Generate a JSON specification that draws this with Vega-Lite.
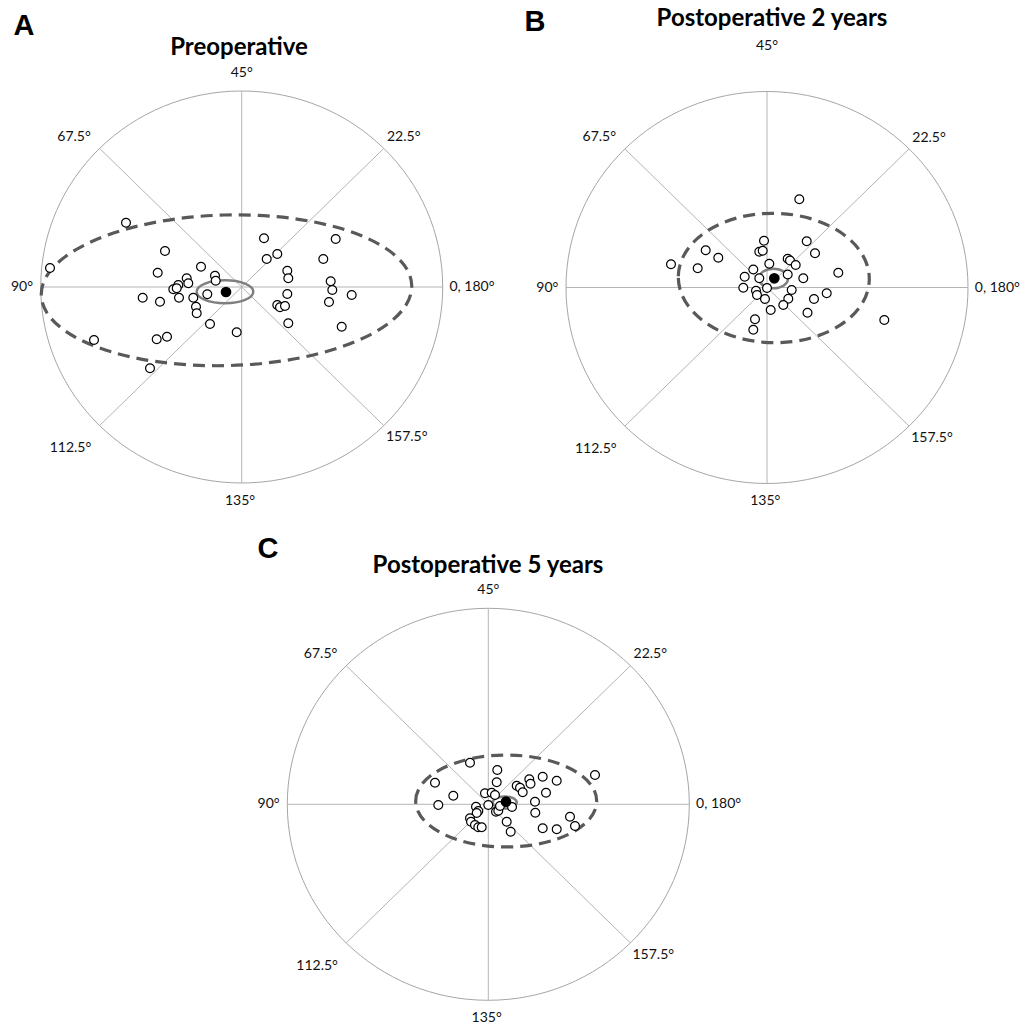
{
  "$schema": "https://vega.github.io/schema/vega-lite/v6.json",
  "padding": 0,
  "background": "white",
  "config": {"view": {"stroke": null}},
  "datasets": {
    "spokes": [
      {"x": -2.01, "y": 0, "x2": 2.01, "y2": 0},
      {"x": 0, "y": -1.96, "x2": 0, "y2": 1.96},
      {"x": -1.421, "y": -1.386, "x2": 1.421, "y2": 1.386},
      {"x": -1.421, "y": 1.386, "x2": 1.421, "y2": -1.386}
    ],
    "eyes": [
      {"panel": "A", "x": -1.157, "y": 0.643}, {"panel": "A", "x": -1.917, "y": 0.19}, {"panel": "A", "x": -0.767, "y": 0.36},
      {"panel": "A", "x": -0.84, "y": 0.143}, {"panel": "A", "x": -0.407, "y": 0.203}, {"panel": "A", "x": -0.267, "y": 0.113},
      {"panel": "A", "x": -0.26, "y": 0.063}, {"panel": "A", "x": -0.55, "y": 0.087}, {"panel": "A", "x": -0.534, "y": 0.037},
      {"panel": "A", "x": -0.634, "y": 0.02}, {"panel": "A", "x": -0.684, "y": -0.023}, {"panel": "A", "x": -0.65, "y": -0.013},
      {"panel": "A", "x": -0.627, "y": -0.107}, {"panel": "A", "x": -0.99, "y": -0.107}, {"panel": "A", "x": -0.817, "y": -0.147},
      {"panel": "A", "x": -0.484, "y": -0.107}, {"panel": "A", "x": -0.344, "y": -0.073}, {"panel": "A", "x": -0.457, "y": -0.197},
      {"panel": "A", "x": -0.45, "y": -0.263}, {"panel": "A", "x": -0.317, "y": -0.37}, {"panel": "A", "x": -0.05, "y": -0.453},
      {"panel": "A", "x": -1.477, "y": -0.53}, {"panel": "A", "x": -0.85, "y": -0.523}, {"panel": "A", "x": -0.747, "y": -0.497},
      {"panel": "A", "x": -0.917, "y": -0.813}, {"panel": "A", "x": 0.223, "y": 0.487}, {"panel": "A", "x": 0.356, "y": 0.33},
      {"panel": "A", "x": 0.25, "y": 0.28}, {"panel": "A", "x": 0.456, "y": 0.163}, {"panel": "A", "x": 0.466, "y": 0.087},
      {"panel": "A", "x": 0.456, "y": -0.07}, {"panel": "A", "x": 0.356, "y": -0.18}, {"panel": "A", "x": 0.383, "y": -0.203},
      {"panel": "A", "x": 0.433, "y": -0.19}, {"panel": "A", "x": 0.466, "y": -0.363}, {"panel": "A", "x": 0.94, "y": 0.48},
      {"panel": "A", "x": 0.816, "y": 0.28}, {"panel": "A", "x": 0.89, "y": 0.057}, {"panel": "A", "x": 0.906, "y": -0.03},
      {"panel": "A", "x": 0.873, "y": -0.15}, {"panel": "A", "x": 1.1, "y": -0.08}, {"panel": "A", "x": 1.0, "y": -0.397},

      {"panel": "B", "x": 0.323, "y": 0.882}, {"panel": "B", "x": 0.397, "y": 0.462}, {"panel": "B", "x": -0.03, "y": 0.468},
      {"panel": "B", "x": -0.077, "y": 0.358}, {"panel": "B", "x": -0.043, "y": 0.368}, {"panel": "B", "x": -0.613, "y": 0.372},
      {"panel": "B", "x": -0.487, "y": 0.298}, {"panel": "B", "x": -0.96, "y": 0.232}, {"panel": "B", "x": -0.693, "y": 0.192},
      {"panel": "B", "x": 0.48, "y": 0.342}, {"panel": "B", "x": 0.023, "y": 0.238}, {"panel": "B", "x": -0.137, "y": 0.18},
      {"panel": "B", "x": 0.207, "y": 0.288}, {"panel": "B", "x": 0.23, "y": 0.27}, {"panel": "B", "x": 0.287, "y": 0.225},
      {"panel": "B", "x": -0.223, "y": 0.108}, {"panel": "B", "x": -0.077, "y": 0.092}, {"panel": "B", "x": 0.207, "y": 0.13},
      {"panel": "B", "x": 0.363, "y": 0.092}, {"panel": "B", "x": 0.713, "y": 0.148}, {"panel": "B", "x": -0.237, "y": -0.002},
      {"panel": "B", "x": -0.11, "y": -0.032}, {"panel": "B", "x": 0.0, "y": -0.005}, {"panel": "B", "x": 0.247, "y": -0.025},
      {"panel": "B", "x": -0.1, "y": -0.075}, {"panel": "B", "x": -0.02, "y": -0.115}, {"panel": "B", "x": 0.213, "y": -0.113},
      {"panel": "B", "x": 0.163, "y": -0.175}, {"panel": "B", "x": 0.037, "y": -0.225}, {"panel": "B", "x": -0.12, "y": -0.318},
      {"panel": "B", "x": -0.137, "y": -0.422}, {"panel": "B", "x": 0.405, "y": -0.252}, {"panel": "B", "x": 0.597, "y": -0.058},
      {"panel": "B", "x": 0.47, "y": -0.115}, {"panel": "B", "x": 1.173, "y": -0.325},

      {"panel": "C", "x": -0.183, "y": 0.416}, {"panel": "C", "x": -0.533, "y": 0.216}, {"panel": "C", "x": -0.35, "y": 0.086},
      {"panel": "C", "x": -0.5, "y": -0.007}, {"panel": "C", "x": 0.09, "y": 0.343}, {"panel": "C", "x": 0.084, "y": 0.22},
      {"panel": "C", "x": -0.033, "y": 0.11}, {"panel": "C", "x": 0.034, "y": 0.116}, {"panel": "C", "x": 0.067, "y": 0.093},
      {"panel": "C", "x": 0.0, "y": -0.007}, {"panel": "C", "x": -0.123, "y": -0.024}, {"panel": "C", "x": -0.1, "y": -0.067},
      {"panel": "C", "x": -0.116, "y": -0.087}, {"panel": "C", "x": -0.183, "y": -0.14}, {"panel": "C", "x": -0.173, "y": -0.174},
      {"panel": "C", "x": -0.133, "y": -0.207}, {"panel": "C", "x": -0.1, "y": -0.23}, {"panel": "C", "x": -0.066, "y": -0.23},
      {"panel": "C", "x": 0.077, "y": -0.074}, {"panel": "C", "x": 0.1, "y": -0.064}, {"panel": "C", "x": 0.184, "y": -0.174},
      {"panel": "C", "x": 0.224, "y": -0.274}, {"panel": "C", "x": 0.284, "y": 0.186}, {"panel": "C", "x": 0.317, "y": 0.166},
      {"panel": "C", "x": 0.344, "y": 0.12}, {"panel": "C", "x": 0.41, "y": 0.25}, {"panel": "C", "x": 0.422, "y": 0.206},
      {"panel": "C", "x": 0.467, "y": 0.026}, {"panel": "C", "x": 0.47, "y": -0.084}, {"panel": "C", "x": 1.067, "y": 0.293},
      {"panel": "C", "x": 0.544, "y": 0.276}, {"panel": "C", "x": 0.684, "y": 0.236}, {"panel": "C", "x": 0.577, "y": 0.116},
      {"panel": "C", "x": 0.817, "y": -0.124}, {"panel": "C", "x": 0.867, "y": -0.217}, {"panel": "C", "x": 0.544, "y": -0.24},
      {"panel": "C", "x": 0.684, "y": -0.25}, {"panel": "C", "x": 0.117, "y": -0.017}, {"panel": "C", "x": 0.237, "y": -0.027}
    ],
    "means": [
      {"panel": "A", "x": -0.157, "y": -0.05},
      {"panel": "B", "x": 0.073, "y": 0.092},
      {"panel": "C", "x": 0.177, "y": 0.026}
    ],
    "ellipses": [
      {"panel": "A", "kind": "dashed", "x": -0.152, "y": -0.033},
      {"panel": "A", "kind": "solid", "x": -0.167, "y": -0.047},
      {"panel": "B", "kind": "dashed", "x": 0.068, "y": 0.095},
      {"panel": "B", "kind": "solid", "x": 0.065, "y": 0.09},
      {"panel": "C", "kind": "dashed", "x": 0.179, "y": 0.033},
      {"panel": "C", "kind": "solid", "x": 0.164, "y": 0.018}
    ],
    "labels": [
      {"panel": "A", "kind": "angle", "x": 0, "y": 2.14, "text": "45°"},
      {"panel": "A", "kind": "angle", "x": 1.62, "y": 1.5, "text": "22.5°"},
      {"panel": "A", "kind": "angle", "x": -1.677, "y": 1.503, "text": "67.5°"},
      {"panel": "A", "kind": "angle", "x": -2.197, "y": 0, "text": "90°"},
      {"panel": "A", "kind": "angle", "x": 2.303, "y": 0, "text": "0, 180°"},
      {"panel": "A", "kind": "angle", "x": -1.712, "y": -1.613, "text": "112.5°"},
      {"panel": "A", "kind": "angle", "x": 1.65, "y": -1.503, "text": "157.5°"},
      {"panel": "A", "kind": "angle", "x": -0.017, "y": -2.137, "text": "135°"},
      {"panel": "A", "kind": "title", "x": -0.027, "y": 2.39, "text": "Preoperative"},
      {"panel": "A", "kind": "letter", "x": -2.177, "y": 2.61, "text": "A"},
      {"panel": "B", "kind": "angle", "x": 0, "y": 2.415, "text": "45°"},
      {"panel": "B", "kind": "angle", "x": 1.62, "y": 1.5, "text": "22.5°"},
      {"panel": "B", "kind": "angle", "x": -1.677, "y": 1.503, "text": "67.5°"},
      {"panel": "B", "kind": "angle", "x": -2.197, "y": 0, "text": "90°"},
      {"panel": "B", "kind": "angle", "x": 2.303, "y": 0, "text": "0, 180°"},
      {"panel": "B", "kind": "angle", "x": -1.712, "y": -1.613, "text": "112.5°"},
      {"panel": "B", "kind": "angle", "x": 1.65, "y": -1.503, "text": "157.5°"},
      {"panel": "B", "kind": "angle", "x": -0.017, "y": -2.137, "text": "135°"},
      {"panel": "B", "kind": "title", "x": 0.05, "y": 2.685, "text": "Postoperative 2 years"},
      {"panel": "B", "kind": "letter", "x": -2.32, "y": 2.655, "text": "B"},
      {"panel": "C", "kind": "angle", "x": 0, "y": 2.14, "text": "45°"},
      {"panel": "C", "kind": "angle", "x": 1.62, "y": 1.5, "text": "22.5°"},
      {"panel": "C", "kind": "angle", "x": -1.677, "y": 1.503, "text": "67.5°"},
      {"panel": "C", "kind": "angle", "x": -2.197, "y": 0, "text": "90°"},
      {"panel": "C", "kind": "angle", "x": 2.303, "y": 0, "text": "0, 180°"},
      {"panel": "C", "kind": "angle", "x": -1.712, "y": -1.613, "text": "112.5°"},
      {"panel": "C", "kind": "angle", "x": 1.65, "y": -1.503, "text": "157.5°"},
      {"panel": "C", "kind": "angle", "x": -0.017, "y": -2.137, "text": "135°"},
      {"panel": "C", "kind": "title", "x": -0.003, "y": 2.383, "text": "Postoperative 5 years"},
      {"panel": "C", "kind": "letter", "x": -2.203, "y": 2.553, "text": "C"}
    ]
  },
  "spacing": 0,
  "vconcat": [
    {
      "spacing": 0,
      "bounds": "flush",
      "hconcat": [
        {
          "width": 513,
          "height": 510,
          "encoding": {
            "x": {"field": "x", "type": "quantitative", "scale": {"domain": [-2.417, 2.713], "nice": false, "zero": false}, "axis": null},
            "y": {"field": "y", "type": "quantitative", "scale": {"domain": [-2.23, 2.87], "nice": false, "zero": false}, "axis": null}
          },
          "layer": [
            {"data": {"values": [{"x": 0, "y": 0}]}, "mark": {"type": "point", "shape": "M-1,0C-1,-0.5385,-0.5523,-0.9751,0,-0.9751C0.5523,-0.9751,1,-0.5385,1,0C1,0.5385,0.5523,0.9751,0,0.9751C-0.5523,0.9751,-1,0.5385,-1,0Z", "size": 161604, "filled": false, "stroke": "#a6a6a6", "strokeWidth": 1, "opacity": 1}},
            {"data": {"name": "spokes"}, "mark": {"type": "rule", "stroke": "#b4b4b4", "strokeWidth": 1}, "encoding": {"x2": {"field": "x2"}, "y2": {"field": "y2"}}},
            {"data": {"name": "ellipses"}, "transform": [{"filter": "datum.panel === 'A' && datum.kind === 'dashed'"}], "mark": {"type": "point", "shape": "M-1,0C-1,-0.2245,-0.5523,-0.4064,0,-0.4064C0.5523,-0.4064,1,-0.2245,1,0C1,0.2245,0.5523,0.4064,0,0.4064C-0.5523,0.4064,-1,0.2245,-1,0Z", "size": 137344, "angle": -1.5, "filled": false, "stroke": "#595959", "strokeWidth": 3.2, "strokeDash": [12, 7], "opacity": 1}},
            {"data": {"name": "ellipses"}, "transform": [{"filter": "datum.panel === 'A' && datum.kind === 'solid'"}], "mark": {"type": "point", "shape": "M-1,0C-1,-0.2245,-0.5523,-0.4064,0,-0.4064C0.5523,-0.4064,1,-0.2245,1,0C1,0.2245,0.5523,0.4064,0,0.4064C-0.5523,0.4064,-1,0.2245,-1,0Z", "size": 3204, "filled": false, "stroke": "#7f7f7f", "strokeWidth": 2.5, "opacity": 1}},
            {"data": {"name": "eyes"}, "transform": [{"filter": "datum.panel === 'A'"}], "mark": {"type": "point", "shape": "circle", "size": 78, "filled": true, "fill": "white", "stroke": "black", "strokeWidth": 1.2, "opacity": 1}},
            {"data": {"name": "means"}, "transform": [{"filter": "datum.panel === 'A'"}], "mark": {"type": "point", "shape": "circle", "size": 115, "filled": true, "fill": "black", "opacity": 1}},
            {"data": {"name": "labels"}, "transform": [{"filter": "datum.panel === 'A' && datum.kind === 'angle'"}], "mark": {"type": "text", "font": "Lato", "fontSize": 14, "align": "center", "baseline": "middle", "color": "#111111"}, "encoding": {"text": {"field": "text"}}},
            {"data": {"name": "labels"}, "transform": [{"filter": "datum.panel === 'A' && datum.kind === 'title'"}], "mark": {"type": "text", "font": "Lato", "fontSize": 24, "fontWeight": "bold", "align": "center", "baseline": "middle", "color": "#000000"}, "encoding": {"text": {"field": "text"}}},
            {"data": {"name": "labels"}, "transform": [{"filter": "datum.panel === 'A' && datum.kind === 'letter'"}], "mark": {"type": "text", "font": "Liberation Sans", "fontSize": 29, "fontWeight": "bold", "align": "center", "baseline": "middle", "color": "#000000"}, "encoding": {"text": {"field": "text"}}}
          ]
        },
        {
          "width": 514,
          "height": 510,
          "encoding": {
            "x": {"field": "x", "type": "quantitative", "scale": {"domain": [-2.54, 2.6], "nice": false, "zero": false}, "axis": null},
            "y": {"field": "y", "type": "quantitative", "scale": {"domain": [-2.225, 2.875], "nice": false, "zero": false}, "axis": null}
          },
          "layer": [
            {"data": {"values": [{"x": 0, "y": 0}]}, "mark": {"type": "point", "shape": "M-1,0C-1,-0.5385,-0.5523,-0.9751,0,-0.9751C0.5523,-0.9751,1,-0.5385,1,0C1,0.5385,0.5523,0.9751,0,0.9751C-0.5523,0.9751,-1,0.5385,-1,0Z", "size": 161604, "filled": false, "stroke": "#a6a6a6", "strokeWidth": 1, "opacity": 1}},
            {"data": {"name": "spokes"}, "mark": {"type": "rule", "stroke": "#b4b4b4", "strokeWidth": 1}, "encoding": {"x2": {"field": "x2"}, "y2": {"field": "y2"}}},
            {"data": {"name": "ellipses"}, "transform": [{"filter": "datum.panel === 'B' && datum.kind === 'dashed'"}], "mark": {"type": "point", "shape": "M-1,0C-1,-0.3742,-0.5523,-0.6775,0,-0.6775C0.5523,-0.6775,1,-0.3742,1,0C1,0.3742,0.5523,0.6775,0,0.6775C-0.5523,0.6775,-1,0.3742,-1,0Z", "size": 36481, "angle": 1, "filled": false, "stroke": "#595959", "strokeWidth": 3.2, "strokeDash": [12, 7], "opacity": 1}},
            {"data": {"name": "ellipses"}, "transform": [{"filter": "datum.panel === 'B' && datum.kind === 'solid'"}], "mark": {"type": "point", "shape": "M-1,0C-1,-0.3742,-0.5523,-0.6775,0,-0.6775C0.5523,-0.6775,1,-0.3742,1,0C1,0.3742,0.5523,0.6775,0,0.6775C-0.5523,0.6775,-1,0.3742,-1,0Z", "size": 841, "filled": false, "stroke": "#7f7f7f", "strokeWidth": 2.5, "opacity": 1}},
            {"data": {"name": "eyes"}, "transform": [{"filter": "datum.panel === 'B'"}], "mark": {"type": "point", "shape": "circle", "size": 78, "filled": true, "fill": "white", "stroke": "black", "strokeWidth": 1.2, "opacity": 1}},
            {"data": {"name": "means"}, "transform": [{"filter": "datum.panel === 'B'"}], "mark": {"type": "point", "shape": "circle", "size": 115, "filled": true, "fill": "black", "opacity": 1}},
            {"data": {"name": "labels"}, "transform": [{"filter": "datum.panel === 'B' && datum.kind === 'angle'"}], "mark": {"type": "text", "font": "Lato", "fontSize": 14, "align": "center", "baseline": "middle", "color": "#111111"}, "encoding": {"text": {"field": "text"}}},
            {"data": {"name": "labels"}, "transform": [{"filter": "datum.panel === 'B' && datum.kind === 'title'"}], "mark": {"type": "text", "font": "Lato", "fontSize": 24, "fontWeight": "bold", "align": "center", "baseline": "middle", "color": "#000000"}, "encoding": {"text": {"field": "text"}}},
            {"data": {"name": "labels"}, "transform": [{"filter": "datum.panel === 'B' && datum.kind === 'letter'"}], "mark": {"type": "text", "font": "Liberation Sans", "fontSize": 29, "fontWeight": "bold", "align": "center", "baseline": "middle", "color": "#000000"}, "encoding": {"text": {"field": "text"}}}
          ]
        }
      ]
    },
    {
      "width": 1027,
      "height": 514,
      "encoding": {
        "x": {"field": "x", "type": "quantitative", "scale": {"domain": [-4.883, 5.387], "nice": false, "zero": false}, "axis": null},
        "y": {"field": "y", "type": "quantitative", "scale": {"domain": [-2.197, 2.943], "nice": false, "zero": false}, "axis": null}
      },
      "layer": [
        {"data": {"values": [{"x": 0, "y": 0}]}, "mark": {"type": "point", "shape": "M-1,0C-1,-0.5385,-0.5523,-0.9751,0,-0.9751C0.5523,-0.9751,1,-0.5385,1,0C1,0.5385,0.5523,0.9751,0,0.9751C-0.5523,0.9751,-1,0.5385,-1,0Z", "size": 161604, "filled": false, "stroke": "#a6a6a6", "strokeWidth": 1, "opacity": 1}},
        {"data": {"name": "spokes"}, "mark": {"type": "rule", "stroke": "#b4b4b4", "strokeWidth": 1}, "encoding": {"x2": {"field": "x2"}, "y2": {"field": "y2"}}},
        {"data": {"name": "ellipses"}, "transform": [{"filter": "datum.panel === 'C' && datum.kind === 'dashed'"}], "mark": {"type": "point", "shape": "M-1,0C-1,-0.2806,-0.5523,-0.508,0,-0.508C0.5523,-0.508,1,-0.2806,1,0C1,0.2806,0.5523,0.508,0,0.508C-0.5523,0.508,-1,0.2806,-1,0Z", "size": 32761, "filled": false, "stroke": "#595959", "strokeWidth": 3.2, "strokeDash": [12, 7], "opacity": 1}},
        {"data": {"name": "ellipses"}, "transform": [{"filter": "datum.panel === 'C' && datum.kind === 'solid'"}], "mark": {"type": "point", "shape": "M-1,0C-1,-0.2806,-0.5523,-0.508,0,-0.508C0.5523,-0.508,1,-0.2806,1,0C1,0.2806,0.5523,0.508,0,0.508C-0.5523,0.508,-1,0.2806,-1,0Z", "size": 576, "filled": false, "stroke": "#7f7f7f", "strokeWidth": 2.5, "opacity": 1}},
        {"data": {"name": "eyes"}, "transform": [{"filter": "datum.panel === 'C'"}], "mark": {"type": "point", "shape": "circle", "size": 78, "filled": true, "fill": "white", "stroke": "black", "strokeWidth": 1.2, "opacity": 1}},
        {"data": {"name": "means"}, "transform": [{"filter": "datum.panel === 'C'"}], "mark": {"type": "point", "shape": "circle", "size": 115, "filled": true, "fill": "black", "opacity": 1}},
        {"data": {"name": "labels"}, "transform": [{"filter": "datum.panel === 'C' && datum.kind === 'angle'"}], "mark": {"type": "text", "font": "Lato", "fontSize": 14, "align": "center", "baseline": "middle", "color": "#111111"}, "encoding": {"text": {"field": "text"}}},
        {"data": {"name": "labels"}, "transform": [{"filter": "datum.panel === 'C' && datum.kind === 'title'"}], "mark": {"type": "text", "font": "Lato", "fontSize": 24, "fontWeight": "bold", "align": "center", "baseline": "middle", "color": "#000000"}, "encoding": {"text": {"field": "text"}}},
        {"data": {"name": "labels"}, "transform": [{"filter": "datum.panel === 'C' && datum.kind === 'letter'"}], "mark": {"type": "text", "font": "Liberation Sans", "fontSize": 29, "fontWeight": "bold", "align": "center", "baseline": "middle", "color": "#000000"}, "encoding": {"text": {"field": "text"}}}
      ]
    }
  ]
}
